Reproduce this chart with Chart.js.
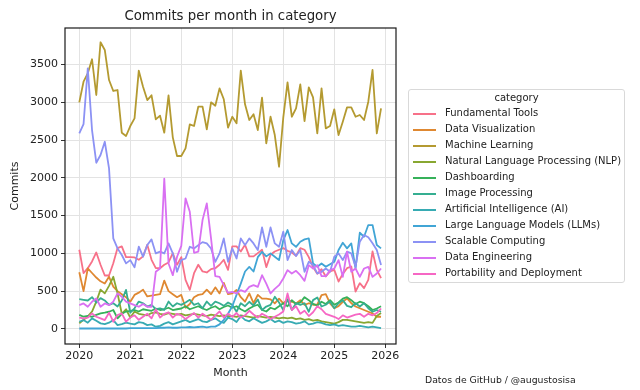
<!DOCTYPE html>
<html>
<head>
<meta charset="utf-8">
<script src="https://cdn.jsdelivr.net/npm/chart.js@4.4.1/dist/chart.umd.min.js"></script>
<style>
    body { margin: 0; background: #fff; }
    #wrap { position: relative; width: 640px; height: 390px; font-family: "DejaVu Sans", sans-serif; color: #222; }
    #chart { position: absolute; left: 0; top: 0; }
    .title { position: absolute; left: 65px; width: 331px; top: 8px; text-align: center; font-size: 13.3px; }
    .source { position: absolute; left: 425px; top: 374px; font-size: 9.3px; white-space: nowrap; }
    #legend { position: absolute; left: 408px; top: 89px; width: 215px; height: 192px; border: 1px solid #d9d9d9; border-radius: 3px; background: rgba(255,255,255,0.8); font-size: 10px; }
    #legend .head { position: absolute; left: 0; width: 100%; top: 2px; text-align: center; }
    #legend .row { position: absolute; left: 0; width: 100%; height: 16px; }
    #legend .swatch { position: absolute; left: 4px; top: 7px; width: 23px; height: 1.8px; }
    #legend .label { position: absolute; left: 36px; top: 1px; white-space: nowrap; }
</style>
</head>
<body>
<div id="wrap">
    <canvas id="chart" width="640" height="390"></canvas>
    <div class="title">Commits per month in category</div>
    <div id="legend"><div class="head">category</div></div>
    <div class="source">Datos de GitHub / @augustosisa</div>
</div>
<script>
// Monthly commits, Jan 2020 .. Dec 2025
const years = [2020, 2021, 2022, 2023, 2024, 2025];
const xTicks = [2020, 2021, 2022, 2023, 2024, 2025, 2026];
const yTicks = [0, 500, 1000, 1500, 2000, 2500, 3000, 3500];

const categories = [
    'Fundamental Tools', 'Data Visualization', 'Machine Learning',
    'Natural Language Processing (NLP)', 'Dashboarding', 'Image Processing',
    'Artificial Intelligence (AI)', 'Large Language Models (LLMs)',
    'Scalable Computing', 'Data Engineering', 'Portability and Deployment'
];
const colors = ['#f77189', '#df8831', '#b49a31', '#88a731', '#36b15a', '#35ae91',
    '#37abb3', '#41a5d5', '#8c92f4', '#d970f2', '#f667c4'];

const fundamentalTools = [
    1048, 738, 804, 893, 1012, 849, 707, 707, 870, 1070, 1092, 950,
    950, 946, 915, 960, 1114, 915, 804, 804, 849, 880, 1003, 849,
    950, 650, 517, 738, 849, 760, 747, 791, 804, 849, 915, 782,
    1092, 1092, 1025, 1114, 960, 960, 1003, 1048, 818, 981, 1025, 1048,
    1070, 1034, 1012, 968, 1070, 1048, 950, 818, 729, 791, 694, 760,
    782, 627, 729, 804, 826, 495, 605, 539, 650, 1025, 782, 672];
const dataVisualization = [
    750, 500, 800, 740, 680, 630, 600, 690, 560, 500, 460, 420,
    360, 450, 480, 520, 430, 440, 450, 460, 640, 500, 460, 420,
    450, 280, 330, 420, 450, 460, 520, 460, 550, 470, 610, 460,
    470, 514, 420, 360, 470, 340, 450, 400, 400, 390, 337, 400,
    337, 390, 360, 337, 380, 318, 340, 320, 320, 448, 461, 337,
    273, 300, 359, 403, 340, 296, 273, 250, 227, 205, 161, 161];
const machineLearning = [
    3000, 3273, 3384, 3570, 3097, 3795, 3693, 3295, 3150, 3163, 2598, 2554,
    2686, 2788, 3419, 3207, 3030, 3093, 2775, 2823, 2598, 3093, 2536, 2289,
    2289, 2391, 2708, 2686, 2942, 2942, 2642, 3000, 2955, 3185, 3040, 2664,
    2809, 2722, 3419, 2973, 2766, 2841, 2633, 3061, 2457, 2809, 2567, 2147,
    2800, 3265, 2809, 2920, 3238, 2752, 3198, 3066, 2589, 3185, 2655, 2686,
    2907, 2567, 2743, 2933, 2933, 2809, 2832, 2766, 3008, 3428, 2589, 2920];
const nlp = [
    75, 120, 165, 230, 360, 520, 470, 570, 690, 470, 200, 260,
    150, 230, 200, 190, 180, 210, 220, 200, 190, 210, 200, 190,
    200, 180, 190, 200, 190, 180, 170, 190, 180, 170, 180, 170,
    170, 160, 180, 170, 160, 150, 170, 160, 150, 160, 150, 140,
    150, 140, 150, 130, 140, 120, 130, 110, 120, 100, 90, 80,
    70, 90, 120, 120, 110, 100, 90, 80, 90, 80, 170, 210];
const dashboarding = [
    185, 161, 172, 160, 185, 205, 214, 227, 250, 140, 200, 230,
    240, 250, 230, 260, 250, 240, 270, 250, 260, 280, 250, 260,
    270, 300, 260, 280, 300, 270, 250, 280, 300, 260, 290, 310,
    280, 300, 260, 230, 270, 300, 320, 250, 230, 280, 260, 300,
    340, 300, 380, 330, 350, 420, 380, 330, 310, 360, 330, 380,
    320, 350, 400, 420, 380, 330, 360, 340, 300, 250, 270, 300];
const imageProcessing = [
    393, 385, 376, 420, 349, 407, 376, 318, 340, 296, 376, 517,
    214, 273, 362, 340, 296, 318, 261, 273, 252, 362, 296, 340,
    318, 349, 385, 318, 340, 273, 362, 305, 362, 340, 305, 349,
    318, 227, 340, 300, 359, 310, 390, 250, 296, 318, 425, 350,
    250, 390, 250, 340, 318, 340, 227, 381, 417, 296, 320, 362,
    273, 340, 381, 305, 287, 340, 296, 340, 273, 227, 250, 227];
const artificialIntelligence = [
    95, 117, 82, 139, 108, 73, 64, 82, 117, 51, 64, 82,
    70, 60, 90, 80, 50, 60, 29, 40, 70, 90, 60, 80,
    100, 120, 90, 110, 130, 100, 90, 120, 140, 100, 80, 150,
    130, 90, 170, 120, 100, 140, 110, 80, 100, 130, 90, 110,
    80, 100, 90, 70, 80, 100, 60, 70, 90, 80, 60, 50,
    60, 40, 50, 40, 30, 30, 40, 30, 20, 30, 20, 10];
const llms = [
    5, 5, 5, 5, 5, 5, 5, 5, 5, 5, 5, 5,
    10, 10, 10, 10, 10, 10, 10, 15, 15, 20, 15, 15,
    20, 20, 25, 20, 25, 30, 20, 30, 30, 60, 120, 200,
    300, 450, 600, 760, 820, 760, 950, 1020, 960, 1000, 955, 911,
    1176, 1309, 1132, 1087, 1154, 1185, 1198, 866, 822, 866, 822, 857,
    888, 1044, 1141, 1066, 1132, 800, 1273, 1220, 1375, 1375, 1110, 1066];
const scalableComputing = [
    2589, 2712, 3450, 2633, 2200, 2302, 2478, 2126, 1199, 1066, 978, 867,
    911, 814, 1088, 956, 1110, 1185, 999, 1022, 999, 1132, 999, 756,
    910, 932, 1087, 1065, 1109, 1149, 1132, 1065, 888, 999, 1198, 888,
    1065, 932, 1198, 1109, 1198, 1132, 1043, 1343, 1087, 1343, 1132, 1087,
    1287, 911, 1044, 965, 1044, 756, 889, 845, 735, 756, 800, 756,
    955, 1000, 911, 1022, 1000, 822, 1155, 1243, 1213, 1133, 1044, 845];
const dataEngineering = [
    315, 337, 293, 360, 404, 293, 337, 315, 360, 470, 426, 360,
    337, 315, 293, 329, 293, 293, 756, 800, 1990, 866, 711, 955,
    1100, 1728, 1551, 1008, 1022, 1441, 1662, 1198, 698, 689, 579, 477,
    491, 469, 513, 491, 557, 579, 557, 711, 600, 469, 530, 579,
    667, 778, 733, 769, 711, 636, 844, 800, 844, 698, 698, 778,
    800, 911, 689, 1022, 756, 800, 689, 800, 822, 689, 733, 800];
const portability = [
    148, 139, 150, 205, 161, 140, 117, 214, 95, 183, 205, 95,
    150, 180, 120, 160, 200, 140, 260, 150, 200, 220, 150, 200,
    180, 130, 170, 210, 150, 200, 160, 120, 180, 230, 150, 200,
    160, 210, 150, 180, 240, 190, 150, 200, 170, 130, 160, 190,
    230, 470, 250, 300, 200, 240, 170, 220, 300, 260, 200, 180,
    160, 130, 180, 150, 170, 190, 200, 160, 200, 180, 210, 270];

const series = [fundamentalTools, dataVisualization, machineLearning, nlp, dashboarding,
    imageProcessing, artificialIntelligence, llms, scalableComputing, dataEngineering, portability];

document.addEventListener('DOMContentLoaded', function() {
    const months = [];
    years.forEach(y => {
        for (let m = 0; m < 12; m++) months.push(y + m / 12);
    });

    const font = { family: 'DejaVu Sans', size: 11 };

    // box around plot area, like matplotlib spines
    const frame = {
        id: 'frame',
        afterDraw(chart) {
            const { ctx, chartArea: a } = chart;
            ctx.save();
            ctx.strokeStyle = '#1a1a1a';
            ctx.lineWidth = 1.2;
            ctx.strokeRect(a.left, a.top, a.right - a.left, a.bottom - a.top);
            ctx.restore();
        }
    };

    new Chart(document.getElementById('chart').getContext('2d'), {
        type: 'line',
        data: {
            datasets: series.map((vals, i) => ({
                label: categories[i],
                data: vals.map((v, j) => ({ x: months[j], y: v })),
                borderColor: colors[i],
                backgroundColor: colors[i],
                borderWidth: 1.8,
                borderJoinStyle: 'round',
                pointRadius: 0,
                tension: 0,
                order: series.length - i
            }))
        },
        options: {
            responsive: false,
            animation: false,
            layout: { padding: { top: 28, right: 244, left: 0, bottom: 0 } },
            plugins: { legend: { display: false }, tooltip: { enabled: false } },
            scales: {
                x: {
                    type: 'linear',
                    min: 2019.72,
                    max: 2026.21,
                    afterBuildTicks: s => { s.ticks = xTicks.map(v => ({ value: v })); },
                    afterFit: s => { s.height = 46; },
                    grid: { color: '#e3e3e3', tickColor: '#333', tickLength: 4 },
                    border: { display: false },
                    ticks: { callback: v => String(v), font: font, color: '#222', padding: 2, maxRotation: 0, autoSkip: false },
                    title: { display: true, text: 'Month', font: font, color: '#222', padding: { top: 0, bottom: 10 } }
                },
                y: {
                    min: -200,
                    max: 3984,
                    afterBuildTicks: s => { s.ticks = yTicks.map(v => ({ value: v })); },
                    afterFit: s => { s.width = 65; },
                    grid: { color: '#e3e3e3', tickColor: '#333', tickLength: 4 },
                    border: { display: false },
                    ticks: { callback: v => String(v), font: font, color: '#222', padding: 3 },
                    title: { display: true, text: 'Commits', font: font, color: '#222', padding: { top: 9, bottom: 0 } }
                }
            }
        },
        plugins: [frame]
    });

    // legend box
    const legend = document.getElementById('legend');
    categories.forEach((name, i) => {
        const row = document.createElement('div');
        row.className = 'row';
        row.style.top = (16 + 16 * i) + 'px';
        row.innerHTML = '<div class="swatch" style="background:' + colors[i] + '"></div>' +
            '<div class="label">' + name + '</div>';
        legend.appendChild(row);
    });
});
</script>
</body>
</html>
